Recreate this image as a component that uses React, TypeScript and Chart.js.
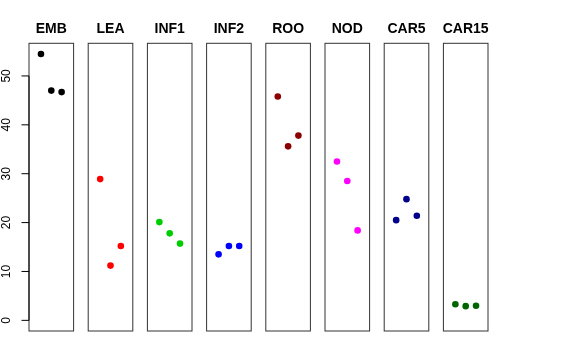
import React, { useEffect, useRef } from "react";
import { Chart, registerables } from "chart.js";

Chart.register(...registerables);

const panels = ["EMB", "LEA", "INF1", "INF2", "ROO", "NOD", "CAR5", "CAR15"];
const panelColors = ["#000000", "#FF0000", "#00CD00", "#0000FF", "#8B0000", "#FF00FF", "#00008B", "#006400"];
const EMB = [54.5, 47.0, 46.7];
const LEA = [28.9, 11.2, 15.2];
const INF1 = [20.1, 17.8, 15.7];
const INF2 = [13.5, 15.2, 15.2];
const ROO = [45.8, 35.6, 37.8];
const NOD = [32.5, 28.5, 18.4];
const CAR5 = [20.5, 24.8, 21.4];
const CAR15 = [3.3, 2.9, 3.0];
const panelValues = [EMB, LEA, INF1, INF2, ROO, NOD, CAR5, CAR15];
const yTicks = [0, 10, 20, 30, 40, 50];

const W = 576;
const H = 360;
const FONT = "'Liberation Sans', Arial, Helvetica, sans-serif";

const allMax = Math.max(...panelValues.flat());
const yLo = 0;
const yHi = allMax;
const yPad = (yHi - yLo) * 0.04;
const xLo = 0;
const xHi = 4;
const xPad = (xHi - xLo) * 0.04;

function Panel({ index }: { index: number }) {
  const ref = useRef<HTMLCanvasElement | null>(null);
  useEffect(() => {
    const canvas = ref.current;
    if (!canvas) return;
    const left = 29 + index * 59.2;
    const right = left + 44.6;
    const vals = panelValues[index];
    const color = panelColors[index];
    const deco = {
      id: "deco" + index,
      afterDraw(chart: any) {
        const { ctx, chartArea, scales } = chart;
        ctx.save();
        ctx.strokeStyle = "#333333";
        ctx.lineWidth = 1;
        ctx.strokeRect(chartArea.left, chartArea.top, chartArea.right - chartArea.left, chartArea.bottom - chartArea.top);
        ctx.fillStyle = "#000";
        ctx.font = "bold 14px " + FONT;
        ctx.textAlign = "center";
        ctx.textBaseline = "middle";
        ctx.fillText(panels[index], (chartArea.left + chartArea.right) / 2, 29.5);
        if (index === 0) {
          const y = scales.y;
          const x0 = chartArea.left;
          ctx.strokeStyle = "#000";
          ctx.beginPath();
          ctx.moveTo(x0, y.getPixelForValue(yTicks[0]));
          ctx.lineTo(x0, y.getPixelForValue(yTicks[yTicks.length - 1]));
          for (const t of yTicks) {
            const py = y.getPixelForValue(t);
            ctx.moveTo(x0, py);
            ctx.lineTo(x0 - 7.5, py);
          }
          ctx.stroke();
          ctx.font = "12px " + FONT;
          ctx.fillStyle = "#000";
          for (const t of yTicks) {
            const py = y.getPixelForValue(t);
            ctx.save();
            ctx.translate(6.5, py);
            ctx.rotate(-Math.PI / 2);
            ctx.textAlign = "center";
            ctx.textBaseline = "middle";
            ctx.fillText(String(t), 0, 0);
            ctx.restore();
          }
        }
        ctx.restore();
      },
    };
    const chart = new Chart(canvas, {
      type: "scatter",
      data: {
        datasets: [
          {
            data: vals.map((v, j) => ({ x: j + 1, y: v })),
            backgroundColor: color,
            borderColor: color,
            borderWidth: 0,
            pointRadius: 3.3,
          },
        ],
      },
      options: {
        responsive: false,
        animation: false,
        devicePixelRatio: 1,
        layout: { padding: { left, right: W - right, top: 43.3, bottom: H - 331 } },
        plugins: { legend: { display: false }, title: { display: false }, tooltip: { enabled: false } },
        scales: {
          x: { type: "linear", display: false, min: xLo - xPad, max: xHi + xPad },
          y: { type: "linear", display: false, min: yLo - yPad, max: yHi + yPad },
        },
        events: [],
      },
      plugins: [deco],
    });
    return () => chart.destroy();
  }, [index]);
  return (
    <canvas
      ref={ref}
      width={W}
      height={H}
      style={{ position: "absolute", left: 0, top: 0, width: W, height: H }}
    />
  );
}

export default function App() {
  return (
    <div style={{ position: "fixed", left: 0, top: 0, width: W, height: H, background: "#fff" }}>
      {panels.map((_, i) => (
        <Panel key={i} index={i} />
      ))}
    </div>
  );
}
